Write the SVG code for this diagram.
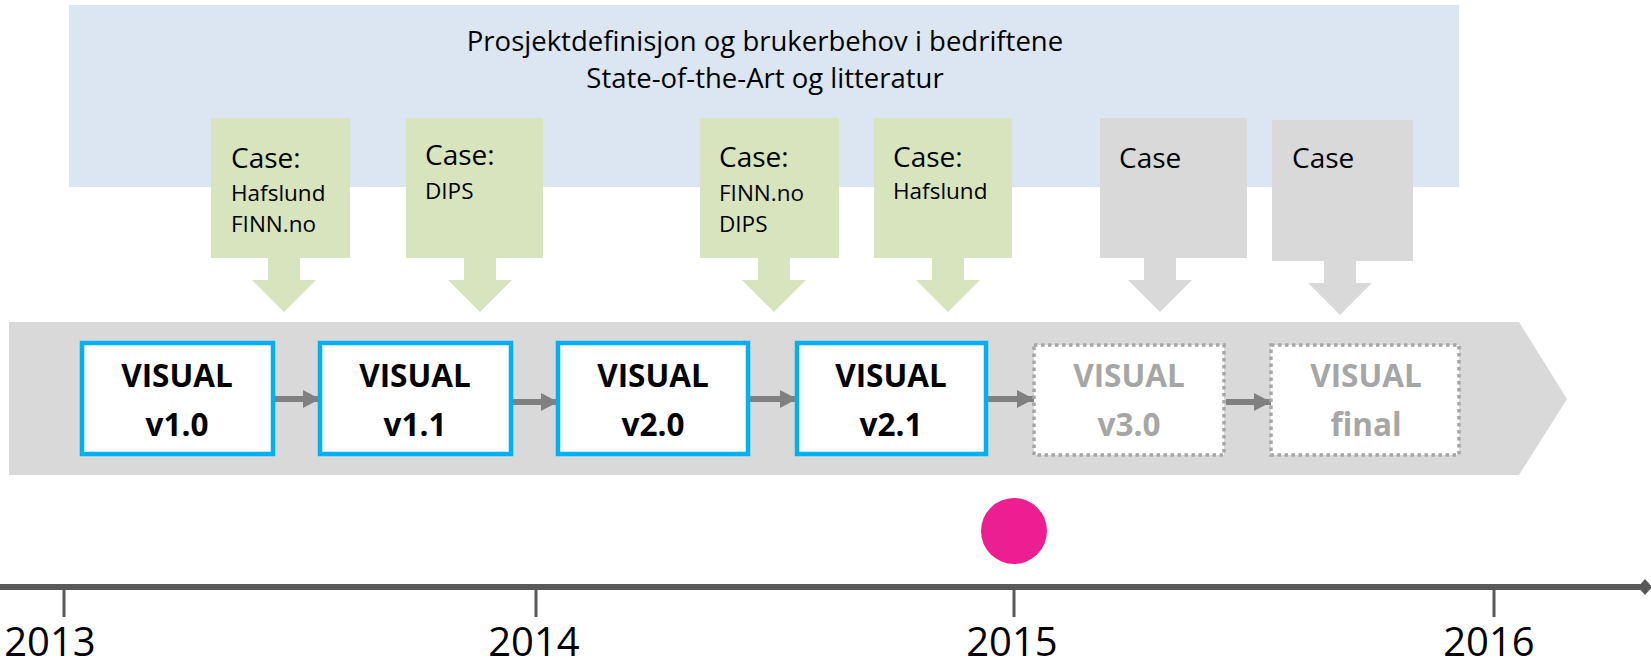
<svg xmlns="http://www.w3.org/2000/svg" width="1651" height="668" viewBox="0 0 1651 668">
<defs>
<style>
text{font-family:"Open Sans","Liberation Sans",sans-serif;fill:#000}
.title{font-size:27.5px;text-anchor:middle}
.case{font-size:28px}
.sub{font-size:22.5px}
.green{fill:#d7e4bd}
.grey{fill:#d9d9d9}
.vb{fill:#fff;stroke:#00b0f0;stroke-width:4.5}
.vd{fill:#fff;stroke:#a6a6a6;stroke-width:3.5;stroke-dasharray:3.5 3.5}
.vt{font-size:31.5px;font-weight:bold;text-anchor:middle}
.vg{fill:#a6a6a6}
.conn{stroke:#808080;stroke-width:6;fill:none}
.year{font-size:40px;text-anchor:middle}
.tick{stroke:#595959;stroke-width:3}
</style>
<marker id="ah" markerWidth="17" markerHeight="18" refX="17" refY="9" orient="auto" markerUnits="userSpaceOnUse">
<path d="M0,0 L17,9 L0,18 Z" fill="#808080"/>
</marker>
</defs>
<rect width="1651" height="668" fill="#fff"/>
<g id="banner">
<rect x="69" y="5" width="1390" height="182" fill="#dce6f2"/>
<text class="title" x="765" y="51">Prosjektdefinisjon og brukerbehov i bedriftene</text>
<text class="title" x="765" y="88">State-of-the-Art og litteratur</text>
</g>
<g id="band">
<polygon points="9,322 1519,322 1567,399 1519,475 9,475" fill="#d9d9d9"/>
</g>
<g id="case1">
<rect class="green" x="211" y="118" width="139" height="140"/>
<polygon class="green" points="268,258 300,258 300,280 316,280 284,312 252,280 268,280"/>
<text class="case" x="231" y="168">Case:</text>
<text class="sub" x="231" y="201">Hafslund</text>
<text class="sub" x="231" y="232">FINN.no</text>
</g>
<g id="case2">
<rect class="green" x="406" y="118" width="137" height="140"/>
<polygon class="green" points="464,258 496,258 496,280 512,280 480,312 448,280 464,280"/>
<text class="case" x="425" y="165">Case:</text>
<text class="sub" x="425" y="199">DIPS</text>
</g>
<g id="case3">
<rect class="green" x="700" y="118" width="139" height="140"/>
<polygon class="green" points="758,258 790,258 790,280 806,280 774,312 742,280 758,280"/>
<text class="case" x="719" y="167">Case:</text>
<text class="sub" x="719" y="201">FINN.no</text>
<text class="sub" x="719" y="232">DIPS</text>
</g>
<g id="case4">
<rect class="green" x="874" y="118" width="138" height="140"/>
<polygon class="green" points="932,258 964,258 964,280 980,280 948,312 916,280 932,280"/>
<text class="case" x="893" y="167">Case:</text>
<text class="sub" x="893" y="199">Hafslund</text>
</g>
<g id="case5">
<rect class="grey" x="1100" y="118" width="147" height="140"/>
<polygon class="grey" points="1144,258 1176,258 1176,280 1192,280 1160,312 1128,280 1144,280"/>
<text class="case" x="1119" y="168">Case</text>
</g>
<g id="case6">
<rect class="grey" x="1272" y="120" width="141" height="141"/>
<polygon class="grey" points="1324,261 1356,261 1356,283 1372,283 1340,315 1308,283 1324,283"/>
<text class="case" x="1292" y="168">Case</text>
</g>
<g id="connectors">
<line class="conn" x1="275" y1="399" x2="320" y2="399" marker-end="url(#ah)"/>
<line class="conn" x1="513" y1="402" x2="558" y2="402" marker-end="url(#ah)"/>
<line class="conn" x1="750" y1="399" x2="797" y2="399" marker-end="url(#ah)"/>
<line class="conn" x1="988" y1="399" x2="1034" y2="399" marker-end="url(#ah)"/>
<line class="conn" x1="1226" y1="402" x2="1271" y2="402" marker-end="url(#ah)"/>
</g>
<g id="v10">
<rect class="vb" x="82" y="343" width="191" height="111"/>
<text class="vt" x="177" y="387">VISUAL</text>
<text class="vt" x="177" y="436">v1.0</text>
</g>
<g id="v11">
<rect class="vb" x="320" y="343" width="191" height="111"/>
<text class="vt" x="415" y="387">VISUAL</text>
<text class="vt" x="415" y="436">v1.1</text>
</g>
<g id="v20">
<rect class="vb" x="558" y="343" width="190" height="111"/>
<text class="vt" x="653" y="387">VISUAL</text>
<text class="vt" x="653" y="436">v2.0</text>
</g>
<g id="v21">
<rect class="vb" x="797" y="343" width="189" height="111"/>
<text class="vt" x="891" y="387">VISUAL</text>
<text class="vt" x="891" y="436">v2.1</text>
</g>
<g id="v30">
<rect class="vd" x="1034" y="345" width="190" height="110"/>
<text class="vt vg" x="1129" y="387">VISUAL</text>
<text class="vt vg" x="1129" y="436">v3.0</text>
</g>
<g id="vfinal">
<rect class="vd" x="1271" y="345" width="188" height="110"/>
<text class="vt vg" x="1366" y="387">VISUAL</text>
<text class="vt vg" x="1366" y="436">final</text>
</g>
<g id="milestone">
<circle cx="1014" cy="531" r="33" fill="#ed1e8f"/>
</g>
<g id="timeline">
<line x1="0" y1="587" x2="1642" y2="587" stroke="#595959" stroke-width="6"/>
<polygon points="1638,587 1645,579 1652,587 1645,595" fill="#595959"/>
<line class="tick" x1="64" y1="587" x2="64" y2="617"/>
<line class="tick" x1="536" y1="587" x2="536" y2="617"/>
<line class="tick" x1="1014" y1="587" x2="1014" y2="617"/>
<line class="tick" x1="1494" y1="587" x2="1494" y2="617"/>
<text class="year" x="50" y="656">2013</text>
<text class="year" x="534" y="656">2014</text>
<text class="year" x="1012" y="656">2015</text>
<text class="year" x="1489" y="656">2016</text>
</g>
</svg>
